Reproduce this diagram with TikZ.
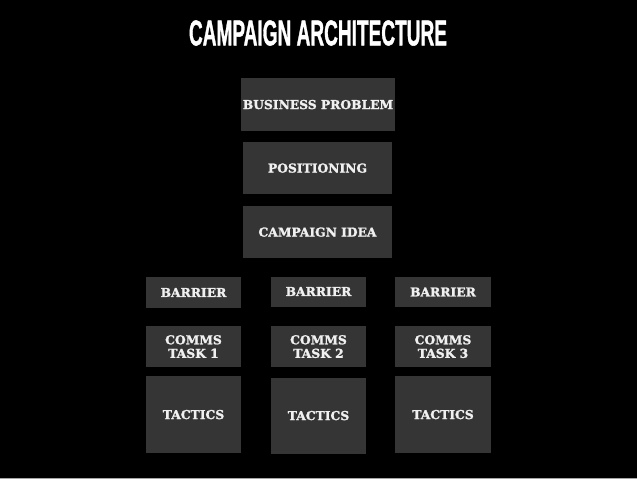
\documentclass[tikz,border=0pt]{standalone}
\usepackage{fontspec}
\setmainfont{DejaVu Serif}[BoldFeatures={FakeBold=1.6}]
\newfontfamily\titlefont{Liberation Sans}[BoldFeatures={FakeBold=1.5}]
\definecolor{boxgray}{HTML}{353535}
\definecolor{txtgray}{HTML}{F0F0F0}
\begin{document}
\begin{tikzpicture}[x=1pt,y=-1pt,
  blk/.style={fill=boxgray, draw=none, inner sep=0pt, align=center,
    text=txtgray, font=\fontsize{12.3}{13.5}\selectfont\bfseries,
    text depth=0pt},
]
\useasboundingbox (0,0) rectangle (637,479);
\fill[black] (0,0) rectangle (637,479);
\fill[gray!70] (0,477.5) rectangle (637,479);
\node[text=white, inner sep=0pt] (title) at (318,33)
  {\resizebox{258pt}{25pt}{\titlefont\bfseries CAMPAIGN ARCHITECTURE}};
\node[blk, minimum width=154pt, minimum height=53pt] (bp) at (318,104.5) {BUSINESS PROBLEM};
\node[blk, minimum width=149pt, minimum height=52pt] (pos) at (317.5,168) {POSITIONING};
\node[blk, minimum width=149pt, minimum height=52pt] (idea) at (317.5,232) {CAMPAIGN IDEA};
\node[blk, minimum width=95pt, minimum height=31pt] (b1) at (193.5,292.5) {BARRIER};
\node[blk, minimum width=95pt, minimum height=30pt] (b2) at (318.5,291.5) {BARRIER};
\node[blk, minimum width=96pt, minimum height=30pt] (b3) at (443,292) {BARRIER};
\node[blk, minimum width=95pt, minimum height=41pt] (c1) at (193.5,346.5) {COMMS\\TASK 1};
\node[blk, minimum width=95pt, minimum height=41pt] (c2) at (318.5,346.5) {COMMS\\TASK 2};
\node[blk, minimum width=96pt, minimum height=41pt] (c3) at (443,346.5) {COMMS\\TASK 3};
\node[blk, minimum width=95pt, minimum height=77pt] (t1) at (193.5,414.5) {TACTICS};
\node[blk, minimum width=95pt, minimum height=76pt] (t2) at (318.5,415.5) {TACTICS};
\node[blk, minimum width=96pt, minimum height=77pt] (t3) at (443,414.5) {TACTICS};
\end{tikzpicture}
\end{document}
